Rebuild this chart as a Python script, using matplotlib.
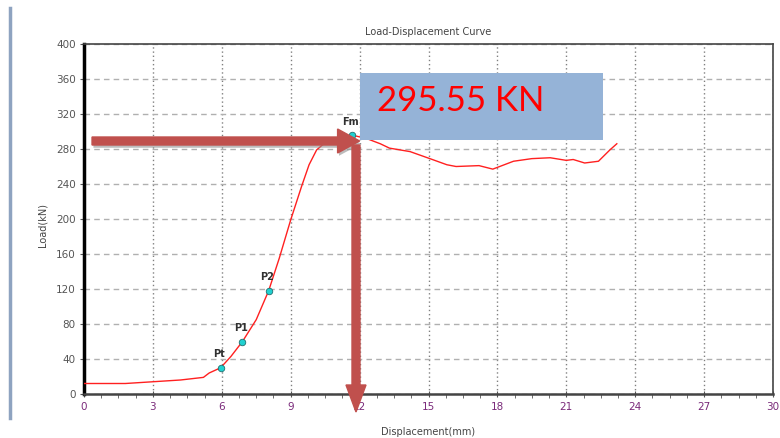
"""
Load-displacement curve with the peak load called out.
"""

import matplotlib.pyplot as plt
import matplotlib.patheffects as pe
from matplotlib.lines import Line2D
from matplotlib.patches import FancyArrow, Rectangle
from matplotlib.ticker import MultipleLocator

# curve
displacement = [0.0, 1.8, 3.0, 4.2, 5.2, 5.45, 5.95, 6.4, 6.9, 7.5, 8.04, 8.5,
                9.0, 9.47, 9.8, 10.13, 10.4, 10.7, 11.2, 11.65, 12.3, 12.9,
                13.3, 14.2, 15.06, 15.8, 16.2, 17.2, 17.8, 18.7, 19.5, 20.3,
                21.0, 21.3, 21.8, 22.4, 22.9, 23.2]
load = [12, 12, 14, 16, 19, 24, 30, 43, 60, 85, 118, 155,
        199, 237, 262, 279, 285, 287, 290, 296, 292, 286,
        281, 277, 269, 262, 260, 261, 257, 266, 269, 270,
        267, 268, 264, 266, 279, 286]

point_labels = ["Pt", "P1", "P2", "Fm"]
point_x = [5.95, 6.9, 8.04, 11.65]
point_y = [30, 60, 118, 295.55]

peak_text = "295.55 KN"

ARROW_RED = "#C0504D"
BOX_BLUE = "#95B3D7"
TICK_PURPLE = "#7A2A7A"

fig = plt.figure(figsize=(7.8, 4.38), dpi=100)
W, H = 780, 438
ax = fig.add_axes([84 / W, 1 - 394 / H, (773 - 84) / W, (394 - 44) / H])

ax.plot(displacement, load, color="#FF2020", lw=1.0, zorder=3)
ax.scatter(point_x, point_y, s=22, marker="o", color="#20D0D0",
           edgecolor="#207070", linewidth=0.6, zorder=4)
for lab, px, py in zip(point_labels, point_x, point_y):
    ax.annotate(lab, (px, py), xytext=(-1, 6), textcoords="offset points",
                ha="center", va="bottom", fontsize=7, fontweight="bold",
                color="#303030", zorder=4)

ax.set_xlim(0, 30)
ax.set_ylim(0, 400)
ax.xaxis.set_major_locator(MultipleLocator(3))
ax.xaxis.set_minor_locator(MultipleLocator(0.75))
ax.yaxis.set_major_locator(MultipleLocator(40))

ax.grid(axis="x", which="major", color="#808080", ls=(0, (1, 2)), lw=1.0)
ax.grid(axis="y", which="major", color="#b0b0b0", ls=(0, (4, 3)), lw=1.0)

ax.tick_params(axis="x", which="major", labelsize=7.5, colors="#555555",
               labelcolor=TICK_PURPLE, length=4, direction="inout", pad=4)
ax.tick_params(axis="x", which="minor", length=3, color="#555555",
               direction="out")
ax.tick_params(axis="y", labelsize=7.5, labelcolor="#555555", length=3,
               color="#555555", pad=3)

ax.spines["left"].set_linewidth(2.5)
ax.spines["left"].set_color("black")
ax.spines["bottom"].set_linewidth(1.8)
ax.spines["bottom"].set_color("#444444")
for side in ["top", "right"]:
    ax.spines[side].set_linewidth(1.2)
    ax.spines[side].set_color("#444444")

fig.text(428 / W, 1 - 32 / H, "Load-Displacement Curve", ha="center",
         va="center", fontsize=7, color="#444444")
fig.text(428 / W, 1 - 432 / H, "Displacement(mm)", ha="center",
         va="center", fontsize=7, color="#444444")
fig.text(42 / W, 1 - 225 / H, "Load(kN)", ha="center", va="center",
         rotation=90, fontsize=7, color="#444444")

# frame line on the left of the slide
fig.add_artist(Line2D([10 / W, 10 / W], [1 - 8 / H, 1 - 418 / H],
                      color="#8EA3C0", lw=2.5))

# callout box
fig.add_artist(Rectangle((360 / W, 1 - 140 / H), (603 - 360) / W,
                         (140 - 73) / H, transform=fig.transFigure,
                         facecolor=BOX_BLUE, edgecolor="none", zorder=5))
fig.text(377 / W, 1 - 101 / H, peak_text, ha="left", va="center",
         fontsize=25, color="#FF0000", family="Lato", zorder=6)

# arrows (data coordinates)
shadow = [pe.SimplePatchShadow(offset=(1, -2), shadow_rgbFace="#909090",
                               alpha=0.6), pe.Normal()]
x_per_px = 30 / (773 - 84)
y_per_px = 400 / (394 - 44)
arrow_y = (394 - 141) * y_per_px
h_arrow = FancyArrow(0.35, arrow_y, 12.0 - 0.35, 0, width=8 * y_per_px,
                     head_width=24 * y_per_px, head_length=22 * x_per_px,
                     length_includes_head=True, color=ARROW_RED,
                     clip_on=False, zorder=6)
h_arrow.set_path_effects(shadow)
ax.add_patch(h_arrow)

arrow_x = (356 - 84) * x_per_px
v_bottom = (394 - 412) * y_per_px
v_arrow = FancyArrow(arrow_x, arrow_y - 4 * y_per_px, 0,
                     v_bottom - arrow_y + 4 * y_per_px, width=8 * x_per_px,
                     head_width=20 * x_per_px, head_length=27 * y_per_px,
                     length_includes_head=True, color=ARROW_RED,
                     clip_on=False, zorder=6)
ax.add_patch(v_arrow)

fig.savefig("out.png", dpi=100)
